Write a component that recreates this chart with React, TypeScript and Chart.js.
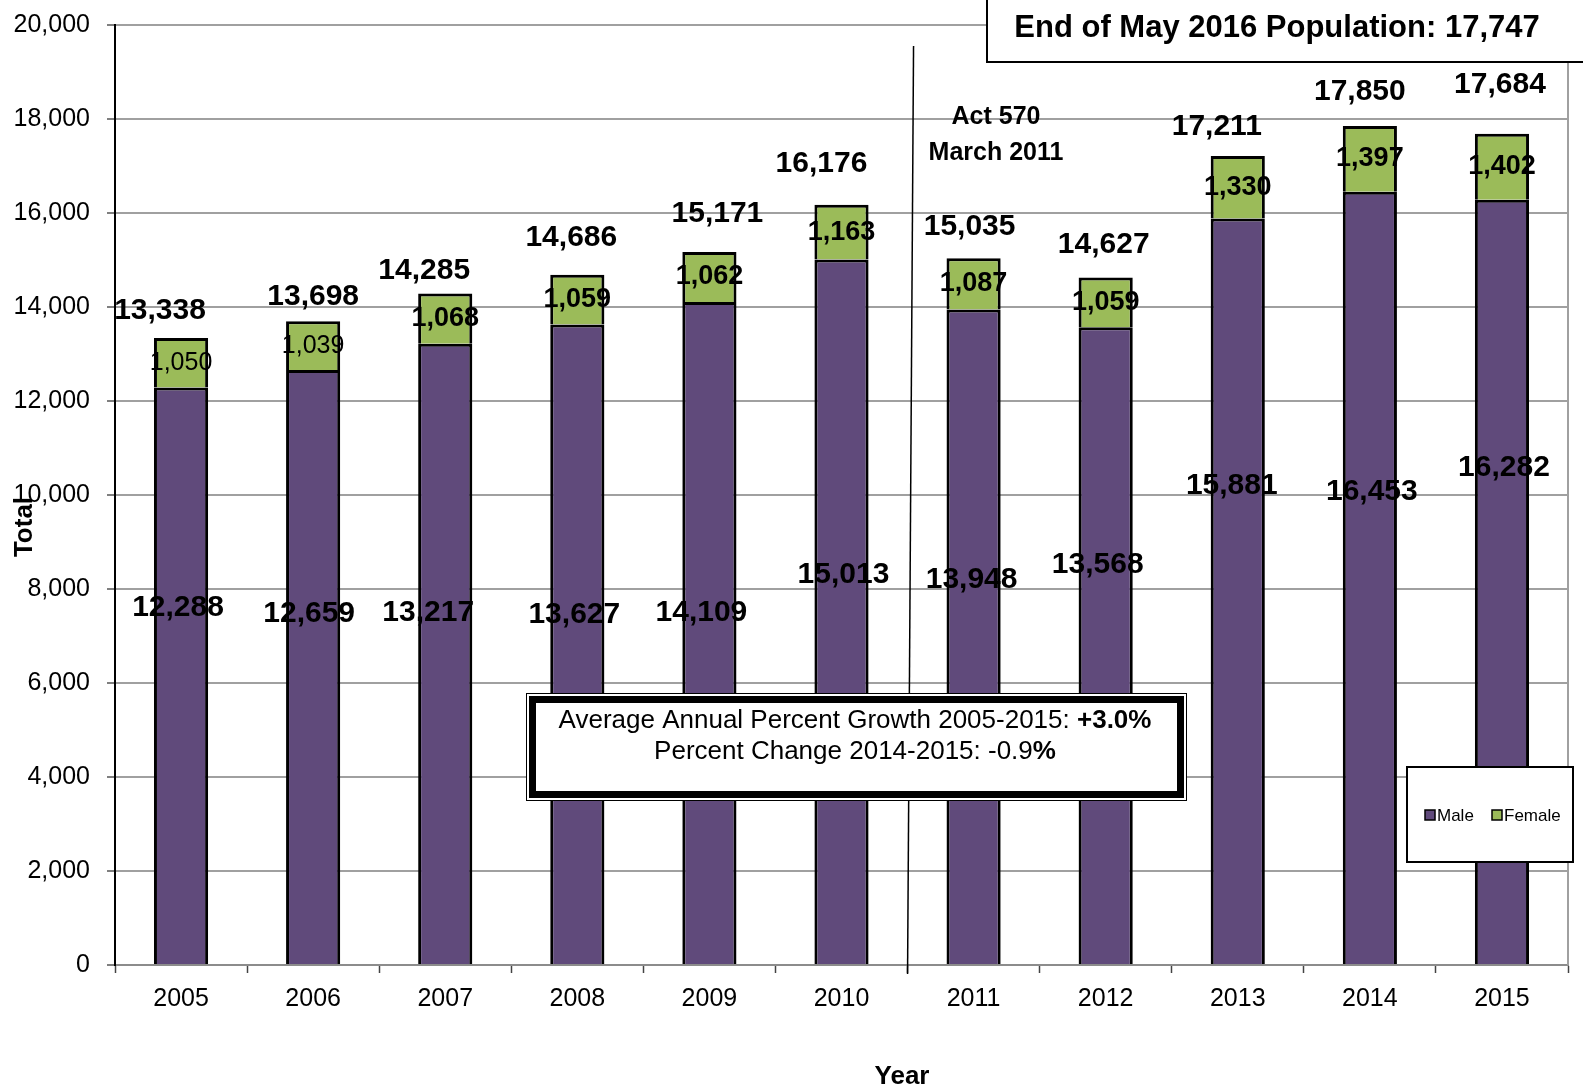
import React, { useEffect, useRef } from "react";
import { Chart, registerables } from "chart.js";

Chart.register(...registerables);

// ---------- data ----------
const years = ["2005", "2006", "2007", "2008", "2009", "2010", "2011", "2012", "2013", "2014", "2015"];
const maleValues = [12288, 12659, 13217, 13627, 14109, 15013, 13948, 13568, 15881, 16453, 16282];
const femaleValues = [1050, 1039, 1068, 1059, 1062, 1163, 1087, 1059, 1330, 1397, 1402];
const totalValues = [13338, 13698, 14285, 14686, 15171, 16176, 15035, 14627, 17211, 17850, 17684];
const yMin = 0;
const yMax = 20000;
const yStep = 2000;
const seriesNames = ["Male", "Female"];
const headlineText = "End of May 2016 Population: 17,747";
const eventLines = ["Act 570", "March 2011"];
const growthParts = ["Average Annual Percent Growth 2005-2015: ", "+3.0%"];
const changeParts = ["Percent Change 2014-2015: -0.9", "%"];
const xTitle = "Year";
const yTitle = "Total";

// ---------- layout (label nudges in px) ----------
const totalNudge = [[-21, -27], [0, -24], [-21, -23], [-6, -37], [8, -38], [-20, -41], [-4, -32], [-2, -33], [-21, -29], [-10, -34], [-2, -49]];
const maleNudge = [[-3, -68], [-4, -53], [-17, -41], [-3, -30], [-8, -20], [2, -37], [-2, -57], [-8, -81], [-6, -106], [2, -86], [2, -114]];
const femaleBold = [false, false, true, true, true, true, true, true, true, true, true];

const MALE = "#604A7B";
const FEMALE = "#9BBB59";
const FONT = '"Liberation Sans", Arial, sans-serif';
const fmt = (n: number) => n.toLocaleString("en-US");

const overlayPlugin = {
  id: "overlay",
  beforeDatasetsDraw(chart: any) {
    const { ctx, chartArea } = chart;
    ctx.save();
    ctx.strokeStyle = "#A0A0A0";
    ctx.lineWidth = 2;
    ctx.beginPath();
    ctx.moveTo(chartArea.right, chartArea.top);
    ctx.lineTo(chartArea.right, chartArea.bottom);
    ctx.stroke();
    ctx.restore();
  },
  afterDatasetsDraw(chart: any) {
    const { ctx } = chart;
    const mMeta = chart.getDatasetMeta(0);
    const fMeta = chart.getDatasetMeta(1);
    ctx.save();
    ctx.fillStyle = "#000";
    ctx.textAlign = "center";
    ctx.textBaseline = "middle";
    for (let i = 0; i < years.length; i++) {
      const mb = mMeta.data[i];
      const fb = fMeta.data[i];
      ctx.font = `bold 30px ${FONT}`;
      ctx.fillText(fmt(maleValues[i]), mb.x + maleNudge[i][0], (mb.y + mb.base) / 2 + maleNudge[i][1]);
      ctx.font = femaleBold[i] ? `bold 27px ${FONT}` : `25px ${FONT}`;
      ctx.fillText(fmt(femaleValues[i]), fb.x, (fb.y + fb.base) / 2);
      ctx.font = `bold 30px ${FONT}`;
      ctx.fillText(fmt(totalValues[i]), fb.x + totalNudge[i][0], fb.y + totalNudge[i][1]);
    }
    ctx.restore();
  },
  afterDraw(chart: any) {
    const { ctx, chartArea } = chart;
    const xs = chart.scales.x;
    ctx.save();

    // event divider line between 2010 and 2011
    const bx = (xs.getPixelForValue(5) + xs.getPixelForValue(6)) / 2;
    ctx.strokeStyle = "#000";
    ctx.lineWidth = 1.5;
    ctx.beginPath();
    ctx.moveTo(bx + 6, 46);
    ctx.lineTo(bx, chartArea.bottom + 9);
    ctx.stroke();

    // event text
    ctx.fillStyle = "#000";
    ctx.textAlign = "center";
    ctx.textBaseline = "middle";
    ctx.font = `bold 25px ${FONT}`;
    ctx.fillText(eventLines[0], 996, 117);
    ctx.fillText(eventLines[1], 996, 153);

    // headline box
    ctx.fillStyle = "#fff";
    ctx.fillRect(986, -4, 620, 66);
    ctx.strokeStyle = "#000";
    ctx.lineWidth = 2;
    ctx.strokeRect(987, -4, 620, 66);
    ctx.fillStyle = "#000";
    ctx.font = `bold 31px ${FONT}`;
    ctx.fillText(headlineText, 1277, 28);

    // growth box
    const L = 526, T = 693, R = 1187, B = 801;
    ctx.fillStyle = "#fff";
    ctx.fillRect(L, T, R - L, B - T);
    ctx.strokeStyle = "#000";
    ctx.lineWidth = 1;
    ctx.strokeRect(L + 0.5, T + 0.5, R - L - 1, B - T - 1);
    ctx.lineWidth = 7;
    ctx.strokeRect(L + 6.5, T + 6.5, R - L - 13, B - T - 13);

    const drawParts = (parts: string[], boldIdx: number, cx: number, cy: number) => {
      const fonts = parts.map((_, k) => (k === boldIdx ? `bold 26px ${FONT}` : `26px ${FONT}`));
      const widths = parts.map((p, k) => {
        ctx.font = fonts[k];
        return ctx.measureText(p).width;
      });
      let x = cx - widths.reduce((a, b) => a + b, 0) / 2;
      ctx.textAlign = "left";
      parts.forEach((p, k) => {
        ctx.font = fonts[k];
        ctx.fillText(p, x, cy);
        x += widths[k];
      });
    };
    ctx.fillStyle = "#000";
    drawParts(growthParts, 1, 855, 721);
    drawParts(changeParts, 1, 855, 752);

    // legend
    ctx.fillStyle = "#fff";
    ctx.fillRect(1406, 766, 168, 97);
    ctx.lineWidth = 2;
    ctx.strokeStyle = "#000";
    ctx.strokeRect(1407, 767, 166, 95);
    const legendItems = [
      { name: seriesNames[0], color: MALE, x: 1425 },
      { name: seriesNames[1], color: FEMALE, x: 1492 },
    ];
    ctx.textAlign = "left";
    ctx.font = `17px ${FONT}`;
    legendItems.forEach((it) => {
      ctx.fillStyle = it.color;
      ctx.fillRect(it.x, 810, 10, 10);
      ctx.lineWidth = 1.5;
      ctx.strokeStyle = "#000";
      ctx.strokeRect(it.x, 810, 10, 10);
      ctx.fillStyle = "#000";
      ctx.fillText(it.name, it.x + 12, 816);
    });

    // axis titles
    ctx.font = `bold 26px ${FONT}`;
    ctx.textAlign = "center";
    ctx.fillText(xTitle, 902, 1077);
    ctx.save();
    ctx.translate(25, 527);
    ctx.rotate(-Math.PI / 2);
    ctx.fillText(yTitle, 0, 0);
    ctx.restore();

    ctx.restore();
  },
};

export default function App() {
  const ref = useRef<HTMLCanvasElement | null>(null);
  useEffect(() => {
    document.body.style.margin = "0";
    if (!ref.current) return;
    const chart = new Chart(ref.current, {
      type: "bar",
      data: {
        labels: years,
        datasets: [
          {
            label: seriesNames[0],
            data: maleValues,
            backgroundColor: MALE,
            borderColor: "#000",
            borderWidth: 3,
            barPercentage: 0.41,
            categoryPercentage: 1,
          },
          {
            label: seriesNames[1],
            data: femaleValues,
            backgroundColor: FEMALE,
            borderColor: "#000",
            borderWidth: 3,
            barPercentage: 0.41,
            categoryPercentage: 1,
          },
        ],
      },
      options: {
        responsive: false,
        animation: false,
        devicePixelRatio: 1,
        layout: { padding: { top: 25, right: 15, left: 0, bottom: 0 } },
        plugins: { legend: { display: false }, tooltip: { enabled: false }, title: { display: false } },
        scales: {
          x: {
            stacked: true,
            grid: { drawOnChartArea: false, drawTicks: true, tickLength: 8, tickColor: "#444", tickWidth: 1.5, offset: true },
            border: { color: "#8c8c8c", width: 2 },
            ticks: { color: "#000", font: { size: 25, family: FONT }, padding: 11, maxRotation: 0, autoSkip: false },
            afterFit: (s: any) => {
              s.height = 124;
              s.paddingLeft = 0;
              s.paddingRight = 0;
            },
          },
          y: {
            stacked: true,
            min: yMin,
            max: yMax,
            grid: { color: "#A0A0A0", lineWidth: 2, drawTicks: true, tickLength: 8, tickColor: "#555", tickWidth: 1.5 },
            border: { color: "#000", width: 2 },
            ticks: {
              stepSize: yStep,
              color: "#000",
              font: { size: 25, family: FONT },
              padding: 17,
              callback: (v: any) => fmt(Number(v)),
            },
            afterFit: (s: any) => {
              s.width = 115;
              s.paddingTop = 0;
              s.paddingBottom = 0;
            },
          },
        },
      },
      plugins: [overlayPlugin],
    });
    return () => chart.destroy();
  }, []);
  return (
    <div style={{ position: "fixed", left: 0, top: 0, width: 1583, height: 1089, background: "#fff" }}>
      <canvas ref={ref} width={1583} height={1089} />
    </div>
  );
}
